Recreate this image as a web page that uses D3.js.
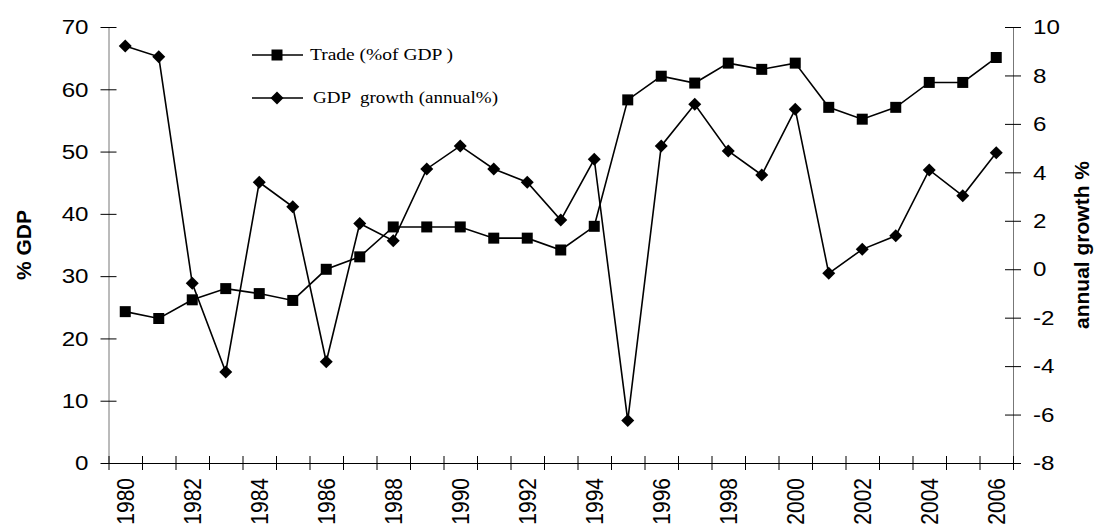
<!DOCTYPE html>
<html lang="en">
<head>
    <meta charset="UTF-8">
    <title>Trade and GDP growth, 1980-2006</title>
    <script src="https://d3js.org/d3.v7.min.js"></script>
    <style>
        body {
            margin: 0;
            background: #fff;
        }

        .tick text {
            font-family: "Liberation Sans", Arial, sans-serif;
            font-size: 21px;
            fill: #000;
        }

        .axis-title {
            font-family: "Liberation Sans", Arial, sans-serif;
            font-size: 21px;
            font-weight: bold;
        }

        .legend-text {
            font-family: "Liberation Serif", "Times New Roman", serif;
            font-size: 17px;
        }
    </style>
</head>
<body>
<svg width="1094" height="524"></svg>

<script>
    // data
    const years = d3.range(1980, 2007);
    const trade = [24.3, 23.2, 26.2, 28.0, 27.2, 26.1, 31.1, 33.1, 37.9, 37.9,
        37.9, 36.1, 36.1, 34.2, 38.0, 58.3, 62.1, 61.0, 64.2, 63.2,
        64.2, 57.1, 55.2, 57.1, 61.1, 61.1, 65.1];
    const growth = [9.22, 8.77, -0.58, -4.24, 3.59, 2.58, -3.82, 1.89, 1.18, 4.14,
        5.09, 4.14, 3.59, 2.03, 4.54, -6.25, 5.09, 6.81, 4.88, 3.89,
        6.60, -0.17, 0.82, 1.38, 4.10, 3.03, 4.81];
    const leftTicks = [0, 10, 20, 30, 40, 50, 60, 70];
    const rightTicks = [-8, -6, -4, -2, 0, 2, 4, 6, 8, 10];
    const yearLabels = years.filter(y => y % 2 === 0);

    const svg = d3.select("svg");
    const margin = { top: 27, left: 108.5, right: 1013, bottom: 463 };
    const stretch = 1.15; // tick text in the original is a bit wide

    const x = d3.scaleBand()
        .domain(years)
        .range([margin.left, margin.right])
        .padding(0);

    // one tick at every category edge
    const xEdge = d3.scaleLinear()
        .domain([0, years.length])
        .range(x.range());

    const yL = d3.scaleLinear().domain([0, 70]).range([margin.bottom, margin.top]);
    const yR = d3.scaleLinear().domain([-8, 10]).range([margin.bottom, margin.top]);

    const cx = (d, i) => x(years[i]) + x.bandwidth() / 2;

    // left axis
    const gL = svg.append("g")
        .attr("transform", `translate(${margin.left},0)`)
        .call(d3.axisLeft(yL).tickValues(leftTicks).tickFormat(d => String(d)).tickSizeOuter(0));
    gL.select(".domain").attr("stroke", "#777");
    gL.selectAll(".tick line").attr("x1", -8).attr("x2", 8).attr("stroke", "#000");
    gL.selectAll(".tick text")
        .attr("x", -20 / stretch)
        .attr("transform", `scale(${stretch},1)`);

    // right axis, plain hyphen for negatives like the original
    const gR = svg.append("g")
        .attr("transform", `translate(${margin.right},0)`)
        .call(d3.axisRight(yR).tickValues(rightTicks).tickFormat(d => String(d)).tickSizeOuter(0));
    gR.select(".domain").attr("stroke", "#777");
    gR.selectAll(".tick line").attr("x1", -8).attr("x2", 8).attr("stroke", "#000");
    gR.selectAll(".tick text")
        .attr("x", 20 / stretch)
        .attr("transform", `scale(${stretch},1)`);

    // x axis: edge ticks
    const gX = svg.append("g")
        .attr("transform", `translate(0,${margin.bottom})`)
        .call(d3.axisBottom(xEdge).tickValues(d3.range(0, years.length + 1))
            .tickFormat("").tickSizeOuter(0));
    gX.select(".domain").attr("stroke", "#000");
    gX.selectAll(".tick line").attr("y1", -7).attr("y2", 7).attr("stroke", "#000");

    // x axis: year labels, rotated
    const gXL = svg.append("g")
        .attr("transform", `translate(0,${margin.bottom})`)
        .call(d3.axisBottom(x).tickValues(yearLabels).tickSize(0));
    gXL.select(".domain").remove();
    gXL.selectAll(".tick text")
        .attr("x", -15)
        .attr("y", 0)
        .attr("dy", "0.35em")
        .style("text-anchor", "end")
        .attr("transform", `rotate(-90) scale(1,${stretch})`);

    // axis titles
    svg.append("text")
        .attr("class", "axis-title")
        .attr("transform", `translate(31,${(margin.top + margin.bottom) / 2}) rotate(-90)`)
        .attr("text-anchor", "middle")
        .text("% GDP");

    svg.append("text")
        .attr("class", "axis-title")
        .attr("transform", `translate(1089,${(margin.top + margin.bottom) / 2}) rotate(-90)`)
        .attr("text-anchor", "middle")
        .text("annual growth %");

    // lines
    const lineL = d3.line().x(cx).y(d => yL(d));
    const lineR = d3.line().x(cx).y(d => yR(d));

    svg.append("path")
        .datum(trade)
        .attr("d", lineL)
        .attr("fill", "none")
        .attr("stroke", "#000")
        .attr("stroke-width", 1.6);

    svg.append("path")
        .datum(growth)
        .attr("d", lineR)
        .attr("fill", "none")
        .attr("stroke", "#000")
        .attr("stroke-width", 1.6);

    const square = d3.symbol().type(d3.symbolSquare).size(121);
    const diamond = d => `M0,-6.5L6.5,0L0,6.5L-6.5,0Z`;

    svg.append("g").selectAll("path")
        .data(trade)
        .join("path")
        .attr("d", square)
        .attr("transform", (d, i) => `translate(${cx(d, i)},${yL(d)})`)
        .attr("fill", "#000");

    svg.append("g").selectAll("path")
        .data(growth)
        .join("path")
        .attr("d", diamond)
        .attr("transform", (d, i) => `translate(${cx(d, i)},${yR(d)})`)
        .attr("fill", "#000");

    // legend
    const legend = [
        { name: "Trade (%of GDP )", mark: square, y: 55, len: 143, tx: 310 },
        { name: "GDP  growth (annual%)", mark: diamond, y: 98, len: 185, tx: 313 }
    ];
    const lg = svg.append("g").selectAll("g")
        .data(legend)
        .join("g")
        .attr("transform", d => `translate(0,${d.y})`);
    lg.append("line")
        .attr("x1", 252).attr("x2", 303)
        .attr("stroke", "#000").attr("stroke-width", 1.6);
    lg.append("path")
        .attr("d", d => d.mark())
        .attr("transform", "translate(277,0)");
    lg.append("text")
        .attr("class", "legend-text")
        .attr("x", d => d.tx)
        .attr("dy", "0.32em")
        .attr("textLength", d => d.len)
        .attr("lengthAdjust", "spacingAndGlyphs")
        .style("white-space", "pre")
        .text(d => d.name);
</script>
</body>
</html>
